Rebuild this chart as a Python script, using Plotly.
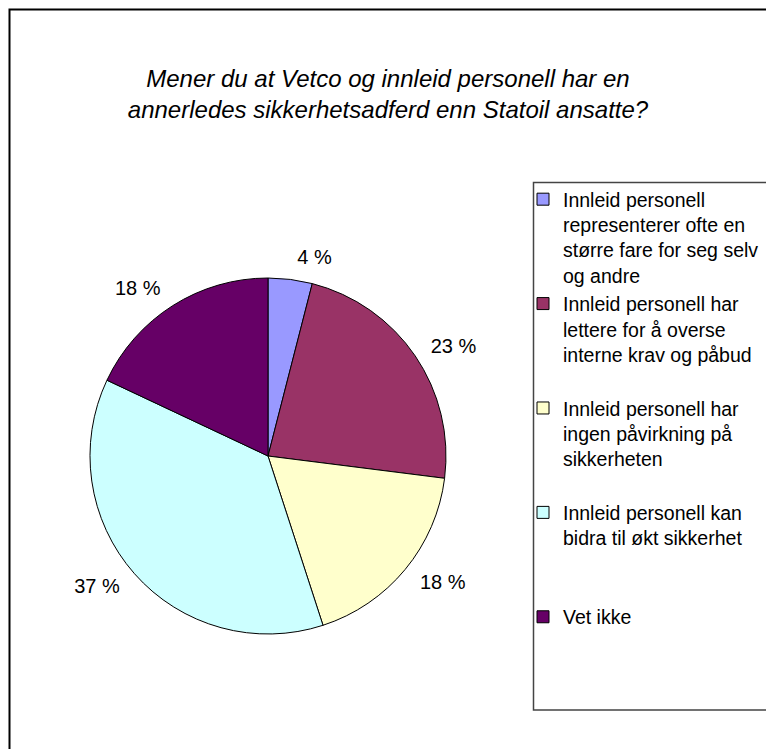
import plotly.graph_objects as go

W, H = 766, 749

# ---- data ----
categories = [
    "Innleid personell<br>representerer ofte en<br>større fare for seg selv<br>og andre",
    "Innleid personell har<br>lettere for å overse<br>interne krav og påbud<br> ",
    "Innleid personell har<br>ingen påvirkning på<br>sikkerheten<br> ",
    "Innleid personell kan<br>bidra til økt sikkerhet<br> <br> ",
    "Vet ikke",
]
values = [4, 23, 18, 37, 18]
labels_text = [f"{v} %" for v in values]
colors = ["#9999FF", "#993366", "#FFFFCC", "#CCFFFF", "#660066"]

title_text = ("Mener du at Vetco og innleid personell har en<br>"
              "annerledes sikkerhetsadferd enn Statoil ansatte?")

FONT = "Liberation Sans, Arial, sans-serif"


def px(x):
    return x / W


def py(y):
    return 1 - y / H


CX, CY, R = 268, 456, 178   # pie centre / radius in page pixels
LR = R + 12                 # radius of the (invisible) label ring

fig = go.Figure()
# the visible pie
fig.add_trace(
    go.Pie(
        labels=categories,
        values=values,
        textinfo="none",
        sort=False,
        direction="clockwise",
        rotation=0,
        marker=dict(colors=colors, line=dict(color="black", width=1)),
        domain=dict(x=[px(CX - R), px(CX + R)], y=[py(CY + R), py(CY - R)]),
        hoverinfo="none",
    )
)
# transparent, slightly larger copy that carries the outside percentage labels
fig.add_trace(
    go.Pie(
        labels=categories,
        values=values,
        text=labels_text,
        textinfo="text",
        textposition="outside",
        sort=False,
        direction="clockwise",
        rotation=0,
        showlegend=False,
        marker=dict(colors=["rgba(0,0,0,0)"] * len(values),
                    line=dict(color="rgba(0,0,0,0)", width=0)),
        outsidetextfont=dict(family=FONT, size=20, color="black"),
        domain=dict(x=[px(CX - LR), px(CX + LR)], y=[py(CY + LR), py(CY - LR)]),
        hoverinfo="none",
    )
)

fig.update_layout(
    width=W,
    height=H,
    margin=dict(l=0, r=0, t=0, b=0, autoexpand=False),
    paper_bgcolor="white",
    plot_bgcolor="white",
    font=dict(family=FONT, color="black"),
    title=dict(
        text=title_text,
        x=px(388),
        xanchor="center",
        xref="paper",
        y=py(87),
        yanchor="top",
        yref="container",
        font=dict(family=FONT, size=24, color="black", style="italic"),
    ),
    showlegend=True,
    legend=dict(
        x=px(523),
        xanchor="left",
        y=py(180),
        yanchor="top",
        valign="top",
        bgcolor="rgba(0,0,0,0)",
        borderwidth=0,
        font=dict(family=FONT, size=19.5, color="black"),
        traceorder="normal",
    ),
    shapes=[
        dict(type="rect", xref="paper", yref="paper",
             x0=px(9.5), x1=px(800), y0=py(800), y1=py(9.5),
             line=dict(color="black", width=2), fillcolor="rgba(0,0,0,0)",
             layer="below"),
        dict(type="rect", xref="paper", yref="paper",
             x0=px(533.5), x1=px(800), y0=py(710), y1=py(182.5),
             line=dict(color="#444444", width=1.5), fillcolor="rgba(0,0,0,0)",
             layer="below"),
    ],
)

fig.write_html("out.html", config=dict(displayModeBar=False))
